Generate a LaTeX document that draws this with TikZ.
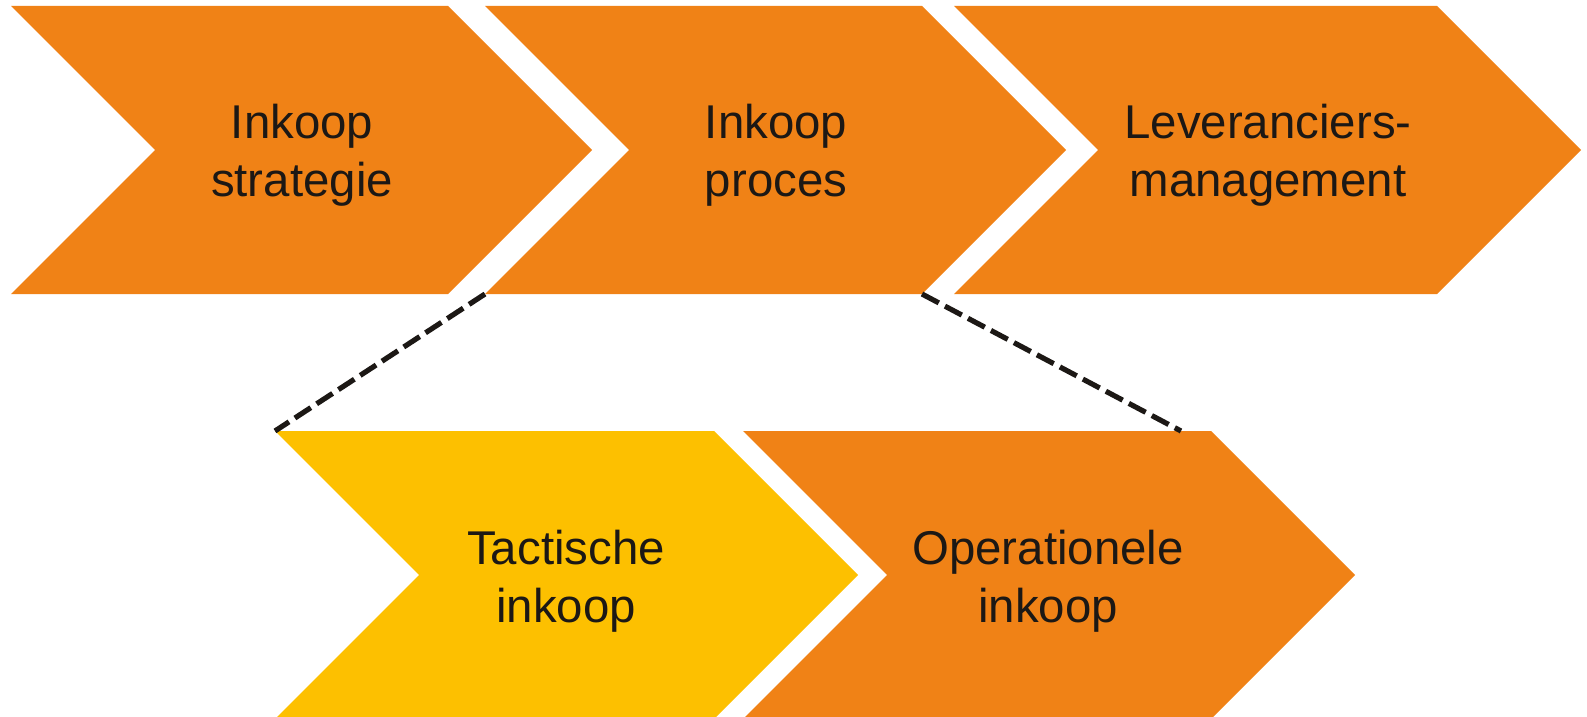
\documentclass[tikz,border=0pt]{standalone}
\usepackage{fontspec}
\setmainfont{Liberation Sans}
\definecolor{chevorange}{RGB}{240,130,22}
\definecolor{chevyellow}{RGB}{253,192,0}
\definecolor{inktext}{RGB}{28,24,21}
\begin{document}
\begin{tikzpicture}[x=0.5pt,y=-0.5pt,
  chevlabel/.style={anchor=base,align=center,inner sep=0pt,text=inktext,
    font=\fontsize{23.7pt}{29pt}\selectfont},
  guide/.style={draw=inktext,line width=2.6pt,dash pattern=on 9.5pt off 3.5pt}]
\useasboundingbox (0,0) rectangle (1587,717);
% top row
\fill[chevorange] (11,6) -- (448,6) -- (592,150) -- (448,294) -- (11,294) -- (155,150) -- cycle;
\fill[chevorange] (485,6) -- (922,6) -- (1066,150) -- (922,294) -- (485,294) -- (629,150) -- cycle;
\fill[chevorange] (954,6) -- (1437,6) -- (1581,150) -- (1437,294) -- (954,294) -- (1098,150) -- cycle;
% bottom row
\fill[chevyellow] (275,431) -- (714,431) -- (858,575) -- (714,719) -- (275,719) -- (419,575) -- cycle;
\fill[chevorange] (743,431) -- (1211,431) -- (1355,575) -- (1211,719) -- (743,719) -- (887,575) -- cycle;
% corner coordinates
\coordinate (procbl) at (485,294);
\coordinate (procbr) at (922,294);
\coordinate (tacttl) at (275,431);
\coordinate (opertop) at (1181,431);
% labels (anchor = baseline of the last line)
\node[chevlabel] (strat) at (302,197) {Inkoop\\strategie};
\node[chevlabel] (proc) at (776,197) {Inkoop\\proces};
\node[chevlabel] (lev) at (1268,197) {Leveranciers-\\management};
\node[chevlabel] (tact) at (566,622) {Tactische\\inkoop};
\node[chevlabel] (oper) at (1048,622) {Operationele\\inkoop};
% dashed guides
\draw[guide] (procbl) -- (tacttl);
\draw[guide] (procbr) -- (opertop);
\end{tikzpicture}
\end{document}
